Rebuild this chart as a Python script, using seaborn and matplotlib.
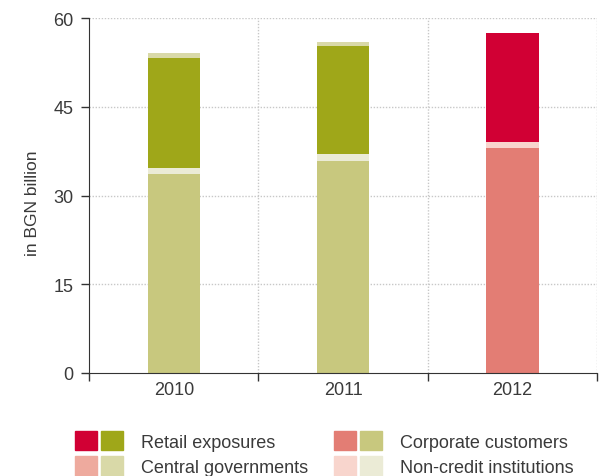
import numpy as np
import pandas as pd
import matplotlib.pyplot as plt
import seaborn as sns
from matplotlib.patches import Patch
from matplotlib.legend_handler import HandlerTuple

# values, BGN billion
years = ['2010', '2011', '2012']
corporate = [33.7, 35.9, 38.0]
non_credit = [1.0, 1.05, 1.0]
retail = [18.5, 18.3, 18.5]
central = [0.9, 0.65, 0.0]

# colour sets: olive for 2010/2011, red for 2012
olive = {'retail': '#9fa719', 'corporate': '#c8c87e', 'central': '#d9d9a8', 'non_credit': '#ebebd6'}
red = {'retail': '#d10034', 'corporate': '#e37d74', 'central': '#eeaa9e', 'non_credit': '#f8d5cd'}
year_colors = [olive, olive, red]

sns.set_style('white')
plt.rcParams['font.family'] = ['Liberation Sans', 'DejaVu Sans']
plt.rcParams['text.color'] = '#3a3a3a'
plt.rcParams['axes.labelcolor'] = '#3a3a3a'
plt.rcParams['xtick.color'] = '#3a3a3a'
plt.rcParams['ytick.color'] = '#3a3a3a'

fig = plt.figure(figsize=(6.02, 4.77), dpi=100)
ax = fig.add_axes([0.148, 0.216, 0.844, 0.744])

layers = [('corporate', corporate), ('non_credit', non_credit), ('retail', retail), ('central', central)]
bottom = np.zeros(len(years))
for key, vals in layers:
    for i, yr in enumerate(years):
        sns.barplot(x=[yr], y=[vals[i]], order=years, color=year_colors[i][key],
                    saturation=1, bottom=bottom[i], width=0.31, ax=ax, linewidth=0)
    bottom = bottom + np.array(vals)

ax.set_ylim(0, 60)
ax.set_xlim(-0.5, 2.5)
ax.set_yticks([0, 15, 30, 45, 60])
ax.set_ylabel('in BGN billion', fontsize=12.5)
ax.yaxis.set_label_coords(-0.097, 0.48)
ax.set_xlabel('')

# boundaries between categories as minor ticks + vertical grid
ax.set_xticks([-0.5, 0.5, 1.5, 2.5], minor=True)
ax.tick_params(axis='x', which='major', bottom=True, length=0, labelsize=13, pad=6)
ax.tick_params(axis='x', which='minor', bottom=True, length=6, width=1, color='#333333', direction='out')
ax.tick_params(axis='y', which='major', left=True, length=6, width=1, labelsize=13,
               color='#333333', direction='out', pad=5)

ax.grid(False)
for y in [15, 30, 45, 60]:
    ax.axhline(y, color='#c8c8c8', linestyle=(0, (1, 1.2)), linewidth=1, zorder=0)
for x in [0.5, 1.5, 2.5]:
    ax.axvline(x, color='#c8c8c8', linestyle=(0, (1, 1.2)), linewidth=1, zorder=0)

sns.despine(ax=ax, top=True, right=True)
ax.spines['left'].set_color('#333333')
ax.spines['bottom'].set_color('#333333')

# legend: each entry shows the red and the olive swatch
names = ['Retail exposures', 'Central governments', 'Corporate customers', 'Non-credit institutions']
keys = ['retail', 'central', 'corporate', 'non_credit']
handles = [(Patch(color=red[k]), Patch(color=olive[k])) for k in keys]
fig.legend(handles, names, ncol=2, loc='lower left', bbox_to_anchor=(0.124, 0.0),
           handler_map={tuple: HandlerTuple(ndivide=None, pad=0.22)},
           handlelength=2.67, handleheight=1.3, handletextpad=1.0,
           columnspacing=1.45, labelspacing=0.3, borderpad=0, borderaxespad=0,
           frameon=False, fontsize=13)

plt.savefig('out.png', dpi=100)
